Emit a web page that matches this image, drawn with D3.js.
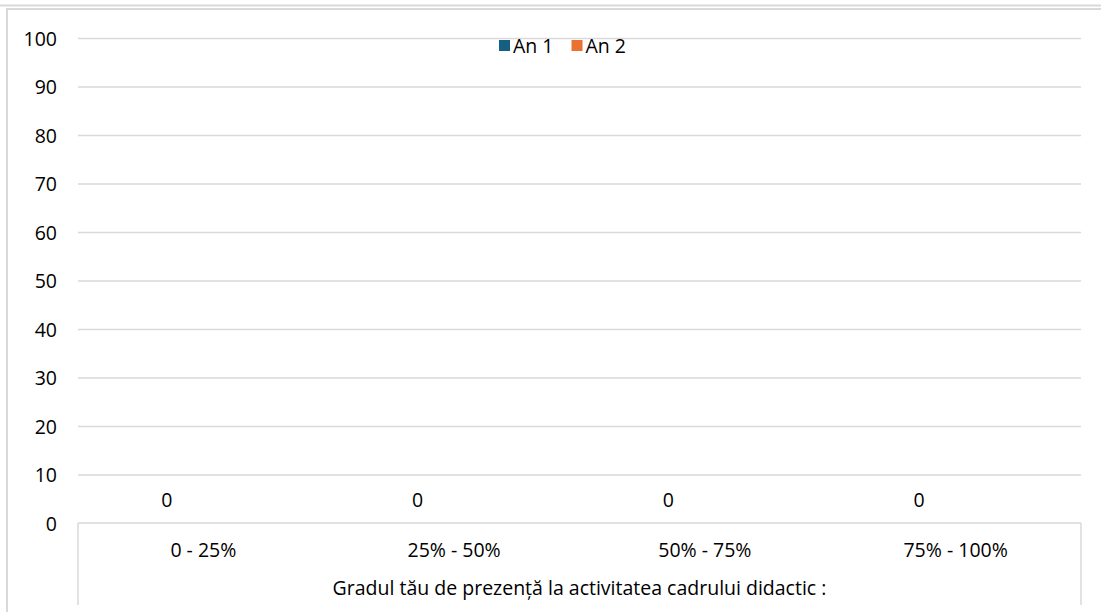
<!DOCTYPE html>
<html><head><meta charset="utf-8">
<script src="https://cdn.jsdelivr.net/npm/d3@7"></script>
<style>body{margin:0;background:#fff;} svg{display:block;} text{font-family:"Open Sans","Noto Sans",sans-serif;fill:#000;}</style>
</head><body>
<svg id="c" width="1101" height="612"></svg>
<script>
const categories = ["0 - 25%", "25% - 50%", "50% - 75%", "75% - 100%"];
const seriesNames = ["An 1", "An 2"];
const an1 = [0, 0, 0, 0];
const an2 = [null, null, null, null];
const yTicks = [0, 10, 20, 30, 40, 50, 60, 70, 80, 90, 100];
const colors = ["#156082", "#E97132"];
const axisTitle = "Gradul tău de prezență la activitatea cadrului didactic :";

(function(){
const svg = d3.select("#c");
const pL = 78, pR = 1081, pT = 38, pB = 523;
const fs = 19.5;
const FF = "Open Sans, Noto Sans, sans-serif";

// frame
svg.append("line").attr("x1",0).attr("x2",1101).attr("y1",5.5).attr("y2",5.5).attr("stroke","#d9d9d9").attr("stroke-width",2);
svg.append("line").attr("x1",6).attr("x2",1101).attr("y1",9).attr("y2",9).attr("stroke","#d9d9d9").attr("stroke-width",2);
svg.append("line").attr("x1",7).attr("x2",7).attr("y1",9).attr("y2",612).attr("stroke","#d9d9d9").attr("stroke-width",2);

const y = d3.scaleLinear().domain([0,100]).range([pB, pT]);
const x0 = d3.scaleBand().domain(categories).range([pL, pR]).paddingInner(0).paddingOuter(0);
const x1 = d3.scaleBand().domain(seriesNames).range([0, x0.bandwidth()]).paddingInner(0).paddingOuter(0.72);

// gridlines
const yAxis = d3.axisLeft(y).tickValues(yTicks).tickSize(-(pR-pL)).tickPadding(21).tickFormat(d3.format("d"));
const gy = svg.append("g").attr("transform",`translate(${pL},0)`).call(yAxis);
gy.select(".domain").remove();
gy.selectAll(".tick line").attr("stroke", d => d===0 ? "none" : "#d9d9d9").attr("stroke-width",1.3);
gy.selectAll(".tick text").attr("font-size",fs).attr("font-family",FF).attr("fill","#000").attr("dy","0.36em");

// category axis
const xAxis = d3.axisBottom(x0).tickSize(0);
const gx = svg.append("g").attr("transform",`translate(0,${pB})`).call(xAxis);
gx.select(".domain").remove();
gx.selectAll(".tick text").attr("font-size",fs).attr("font-family",FF).attr("fill","#000").attr("y",27).attr("dy","0.36em");
svg.append("line").attr("x1",pL).attr("x2",pR).attr("y1",pB).attr("y2",pB).attr("stroke","#d9d9d9").attr("stroke-width",1.5);
[pL, pR].forEach(xx => svg.append("line").attr("x1",xx).attr("x2",xx).attr("y1",pB).attr("y2",605).attr("stroke","#d9d9d9").attr("stroke-width",1.5));

// bars
const data = [an1, an2];
seriesNames.forEach((s, si) => {
  const g = svg.append("g");
  categories.forEach((c, ci) => {
    const v = data[si][ci];
    if (v === null) return;
    g.append("rect").attr("x", x0(c)+x1(s)).attr("width", x1.bandwidth())
      .attr("y", y(v)).attr("height", y(0)-y(v)).attr("fill", colors[si]);
    g.append("text").attr("x", x0(c)+x1(s)+x1.bandwidth()/2).attr("y", y(v)-23).attr("dy","0.36em")
      .attr("text-anchor","middle").attr("font-size",fs).text(v);
  });
});

// axis title
svg.append("text").attr("x",(pL+pR)/2).attr("y",588).attr("dy","0.36em").attr("text-anchor","middle").attr("font-size",fs).text(axisTitle);

// legend
const lg = svg.append("g").attr("transform","translate(499,40)");
let lx = 0;
seriesNames.forEach((s,i) => {
  lg.append("rect").attr("x",lx).attr("y",0).attr("width",11).attr("height",11).attr("fill",colors[i]);
  const t = lg.append("text").attr("x",lx+14).attr("y",5.5).attr("dy","0.36em").attr("font-size",fs).text(s);
  lx += 14 + t.node().getComputedTextLength() + 18;
});
})();
</script>
</body></html>
